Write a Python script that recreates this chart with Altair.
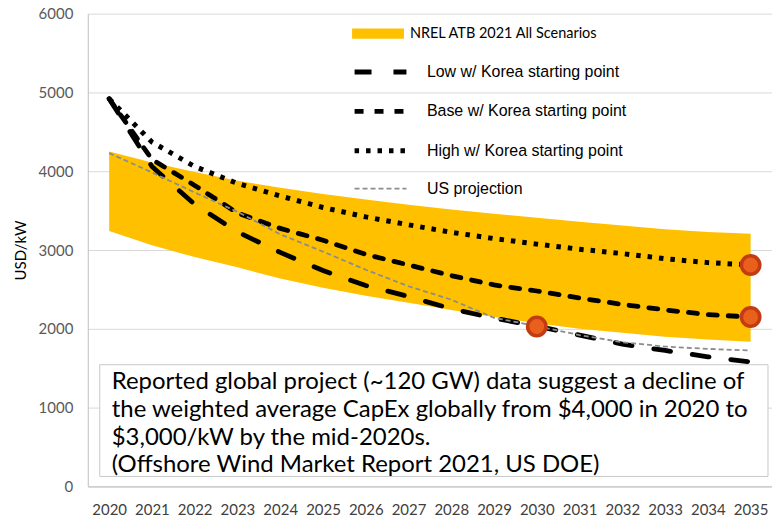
import altair as alt
import pandas as pd

years = list(range(2020, 2036))
band_upper = [4250, 4110, 3990, 3880, 3790, 3710, 3640, 3575, 3515, 3460, 3410, 3360, 3310, 3265, 3230, 3205]
band_lower = [3240, 3060, 2910, 2780, 2640, 2520, 2420, 2330, 2240, 2150, 2070, 2000, 1950, 1900, 1865, 1835]
low = [4920, 4060, 3580, 3230, 2970, 2740, 2550, 2410, 2255, 2135, 2035, 1920, 1805, 1725, 1645, 1580]
base = [4920, 4150, 3820, 3470, 3275, 3125, 2945, 2810, 2675, 2557, 2480, 2390, 2310, 2240, 2180, 2150]
high = [4920, 4370, 4060, 3845, 3685, 3540, 3420, 3320, 3225, 3145, 3075, 3010, 2955, 2890, 2840, 2810]
us = [4230, 3985, 3730, 3485, 3200, 2980, 2750, 2540, 2370, 2140, 2035, 1920, 1830, 1775, 1745, 1725]

dot_years = [2030, 2035, 2035]
dot_values = [2030, 2150, 2810]

band_name = "NREL ATB 2021 All Scenarios"
series_names = ["Low w/ Korea starting point", "Base w/ Korea starting point",
                "High w/ Korea starting point", "US projection"]
y_ticks = [0, 1000, 2000, 3000, 4000, 5000, 6000]
note_lines = [
    "Reported global project (~120 GW) data suggest a decline of",
    "the weighted average CapEx globally from $4,000 in 2020 to",
    "$3,000/kW by the mid-2020s.",
    "(Offshore Wind Market Report 2021, US DOE)",
]

band_df = pd.DataFrame({"year": years, "upper": band_upper, "lower": band_lower, "band": band_name})
rows = []
for name, vals in zip(series_names, [low, base, high, us]):
    for yr, v in zip(years, vals):
        rows.append({"year": yr, "value": v, "series": name})
lines_df = pd.DataFrame(rows)
dots_df = pd.DataFrame({"year": dot_years, "value": dot_values})
one_row = pd.DataFrame({"k": [0]})

x_enc = alt.X("year:O", title=None,
              axis=alt.Axis(labelAngle=0, ticks=False, domainColor="#bfbfbf", labelFont="Lato",
                            labelFontSize=15, labelColor="#404040", labelPadding=16))
y_scale = alt.Scale(domain=[0, 6000], nice=False)
y_axis = alt.Axis(values=y_ticks, format="d", title="USD/kW", ticks=False, domainColor="#bfbfbf",
                  gridColor="#d9d9d9", labelFont="Lato", labelFontSize=15, labelColor="#595959",
                  labelPadding=15, titleFont="Lato", titleFontSize=15, titleFontWeight="normal",
                  titleColor="#000000", titlePadding=10)

band = alt.Chart(band_df).mark_area(opacity=1).encode(
    x=x_enc,
    y=alt.Y("lower:Q", scale=y_scale, axis=y_axis),
    y2="upper:Q",
    fill=alt.Fill("band:N", scale=alt.Scale(domain=[band_name], range=["#FFC000"]),
                  legend=alt.Legend(title=None, orient="none", legendX=265, legendY=-6,
                                    symbolType="M-1,-0.2H1V0.2H-1Z", symbolSize=2704,
                                    symbolStrokeWidth=0, labelFont="Lato", labelFontSize=14.5,
                                    labelColor="#000000", labelOffset=6, labelLimit=400)),
)

line_legend = alt.Legend(title=None, orient="none", legendX=265, legendY=30,
                         symbolType="stroke", symbolSize=2704, labelFont="Liberation Sans",
                         labelFontSize=16, labelColor="#000000", labelOffset=18, rowPadding=0.5,
                         labelLimit=400)

def line_layer(names, cap):
    return alt.Chart(lines_df).transform_filter(
        alt.FieldOneOfPredicate(field="series", oneOf=names)
    ).mark_line(strokeCap=cap).encode(
        x=x_enc,
        y=alt.Y("value:Q", scale=y_scale),
        strokeDash=alt.StrokeDash("series:N", scale=alt.Scale(
            domain=series_names, range=[[17, 22], [9, 11], [4.5, 7], [5, 3]]), legend=line_legend),
        color=alt.Color("series:N", scale=alt.Scale(
            domain=series_names, range=["#000000", "#000000", "#000000", "#8c8c8c"]), legend=line_legend),
        strokeWidth=alt.StrokeWidth("series:N", scale=alt.Scale(
            type="ordinal", domain=series_names, range=[4.8, 4.8, 5, 1.8]), legend=line_legend),
        detail="series:N",
    )

lines_round = line_layer(series_names[:2], "round")
lines_butt = line_layer(series_names[2:], "butt")

box = alt.Chart(one_row).mark_rect(fill="white", stroke="#c8c8c8", strokeWidth=1).encode(
    x=alt.value(12), x2=alt.value(682), y=alt.value(352), y2=alt.value(464))

note = alt.Chart(one_row).mark_text(
    align="left", baseline="alphabetic", font="Lato", fontSize=24, lineHeight=28, color="#000000"
).encode(x=alt.value(24), y=alt.value(376), text=alt.value(note_lines))

dots = alt.Chart(dots_df).mark_point(shape="circle", filled=True, size=340, fill="#E8601C",
                                     stroke="#C23B12", strokeWidth=3.5, opacity=1).encode(
    x=x_enc, y=alt.Y("value:Q", scale=y_scale))

chart = alt.layer(band, box, note, lines_round, lines_butt, dots).properties(
    width=686, height=474,
    autosize=alt.AutoSizeParams(type="none"),
    padding={"left": 88, "top": 13, "right": 0, "bottom": 32},
).configure_view(stroke=None).configure_axis(grid=True).configure_axisX(grid=False)

chart.save("out.html", embed_options={"renderer": "svg", "actions": False})
